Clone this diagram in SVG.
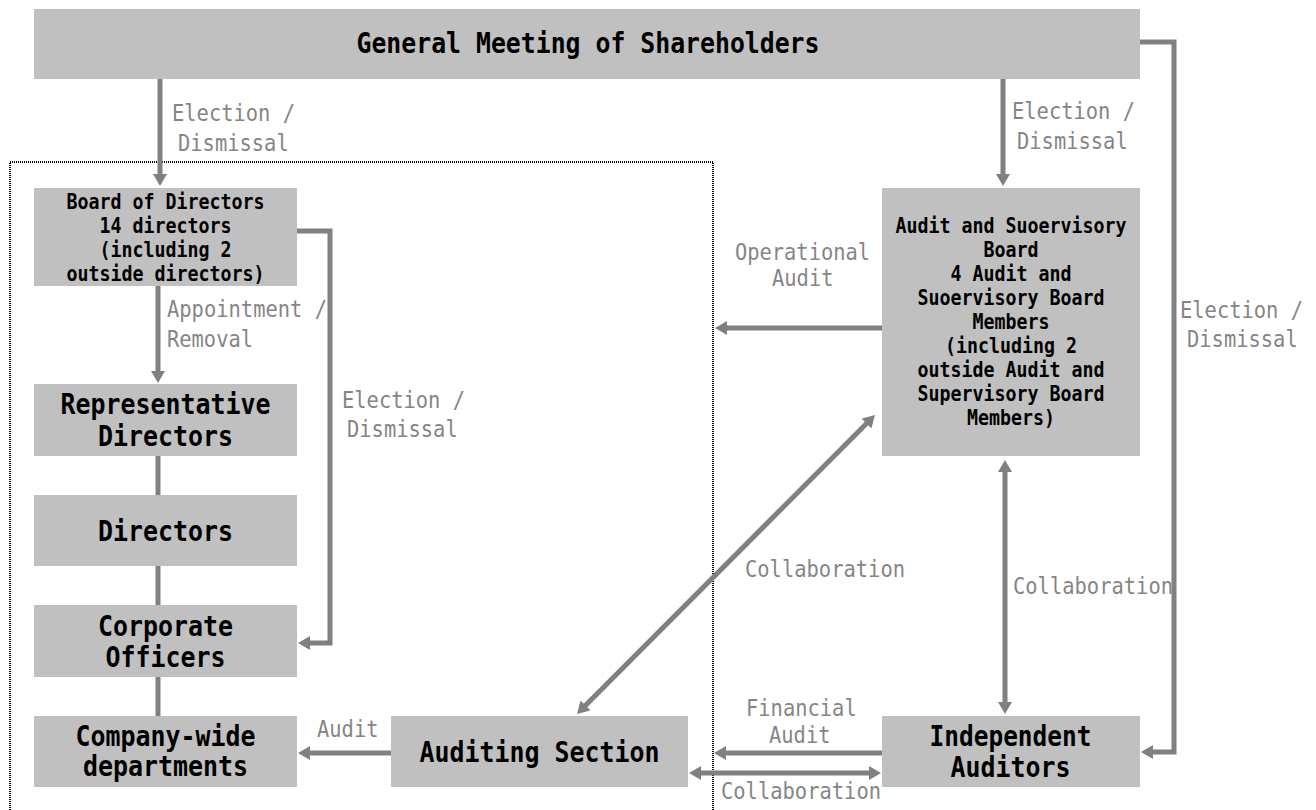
<svg xmlns="http://www.w3.org/2000/svg" width="1316" height="810" viewBox="0 0 1316 810">
<style>
.box{fill:#C0C0C0}
.tb{font-family:"DejaVu Sans Mono","Liberation Mono",monospace;font-size:28px;font-weight:bold;fill:#000;text-anchor:middle}
.ts{font-family:"DejaVu Sans Mono","Liberation Mono",monospace;font-size:20.5px;font-weight:bold;fill:#000;text-anchor:middle}
.lb{font-family:"DejaVu Sans Mono","Liberation Mono",monospace;font-size:23px;fill:#858585}
.c{stroke:#808080;stroke-width:5;fill:none}
.ca{stroke:#808080;stroke-width:5;fill:none;marker-end:url(#ah)}
.cd{stroke:#808080;stroke-width:5;fill:none;marker-end:url(#ah);marker-start:url(#ah)}
.dot{stroke:#000;stroke-width:2;fill:none;stroke-dasharray:1 1}
</style>
<defs>
<marker id="ah" markerUnits="userSpaceOnUse" viewBox="0 0 12 14" markerWidth="12" markerHeight="14" refX="4" refY="7" orient="auto-start-reverse">
<path d="M0,0 L12,7 L0,14 z" fill="#808080"/>
</marker>
</defs>
<rect width="1316" height="810" fill="#fff"/>
<path class="dot" d="M10,812 V162 H713 V812"/>

<g id="connectors">
<line class="ca" x1="160" y1="79" x2="160" y2="178"/>
<line class="ca" x1="1003" y1="79" x2="1003" y2="178"/>
<path class="ca" d="M1140,42 H1174 V752 H1149"/>
<line class="ca" x1="158" y1="286" x2="158" y2="375"/>
<line class="c" x1="158" y1="456" x2="158" y2="495"/>
<line class="c" x1="158" y1="566" x2="158" y2="605"/>
<line class="c" x1="158" y1="677" x2="158" y2="716"/>
<path class="ca" d="M297,231 H330 V643 H306"/>
<line class="ca" x1="882" y1="328" x2="723" y2="328"/>
<line class="cd" x1="582.7" y1="708.3" x2="869.3" y2="420.7"/>
<line class="cd" x1="1005" y1="468" x2="1005" y2="706"/>
<line class="ca" x1="391" y1="753" x2="306" y2="753"/>
<line class="ca" x1="882" y1="753" x2="722" y2="753"/>
<line class="cd" x1="697" y1="773" x2="873" y2="773"/>
</g>

<g id="labels">
<text class="lb" x="172" y="121" textLength="123" lengthAdjust="spacingAndGlyphs">Election /</text>
<text class="lb" x="178" y="151" textLength="110.7" lengthAdjust="spacingAndGlyphs">Dismissal</text>
<text class="lb" x="1012" y="119" textLength="123" lengthAdjust="spacingAndGlyphs">Election /</text>
<text class="lb" x="1017" y="149" textLength="110.7" lengthAdjust="spacingAndGlyphs">Dismissal</text>
<text class="lb" x="167" y="317" textLength="160" lengthAdjust="spacingAndGlyphs">Appointment /</text>
<text class="lb" x="167" y="347" textLength="86" lengthAdjust="spacingAndGlyphs">Removal</text>
<text class="lb" x="342" y="408" textLength="123" lengthAdjust="spacingAndGlyphs">Election /</text>
<text class="lb" x="347" y="437" textLength="110.7" lengthAdjust="spacingAndGlyphs">Dismissal</text>
<text class="lb" x="735" y="260" textLength="135" lengthAdjust="spacingAndGlyphs">Operational</text>
<text class="lb" x="772" y="286" textLength="61.5" lengthAdjust="spacingAndGlyphs">Audit</text>
<text class="lb" x="1180" y="318" textLength="123" lengthAdjust="spacingAndGlyphs">Election /</text>
<text class="lb" x="1187" y="347" textLength="110.7" lengthAdjust="spacingAndGlyphs">Dismissal</text>
<text class="lb" x="745" y="577" textLength="160" lengthAdjust="spacingAndGlyphs">Collaboration</text>
<text class="lb" x="1013" y="594" textLength="160" lengthAdjust="spacingAndGlyphs">Collaboration</text>
<text class="lb" x="317" y="737" textLength="61.5" lengthAdjust="spacingAndGlyphs">Audit</text>
<text class="lb" x="746" y="716" textLength="110.7" lengthAdjust="spacingAndGlyphs">Financial</text>
<text class="lb" x="769" y="743" textLength="61.5" lengthAdjust="spacingAndGlyphs">Audit</text>
<text class="lb" x="721" y="799" textLength="160" lengthAdjust="spacingAndGlyphs">Collaboration</text>
</g>

<g id="general-meeting">
<rect class="box" x="34" y="9" width="1106" height="70"/>
<text class="tb" x="588" y="53" textLength="463" lengthAdjust="spacingAndGlyphs">General Meeting of Shareholders</text>
</g>

<g id="board-of-directors">
<rect class="box" x="34" y="188" width="263" height="98"/>
<text class="ts" x="165.5" y="209" textLength="198" lengthAdjust="spacingAndGlyphs">Board of Directors</text>
<text class="ts" x="165.5" y="233" textLength="132" lengthAdjust="spacingAndGlyphs">14 directors</text>
<text class="ts" x="165.5" y="257" textLength="132" lengthAdjust="spacingAndGlyphs">(including 2</text>
<text class="ts" x="165.5" y="281" textLength="198" lengthAdjust="spacingAndGlyphs">outside directors)</text>
</g>

<g id="representative-directors">
<rect class="box" x="34" y="384" width="263" height="72"/>
<text class="tb" x="165.5" y="414" textLength="210" lengthAdjust="spacingAndGlyphs">Representative</text>
<text class="tb" x="165.5" y="446" textLength="135" lengthAdjust="spacingAndGlyphs">Directors</text>
</g>

<g id="directors">
<rect class="box" x="34" y="495" width="263" height="71"/>
<text class="tb" x="165.5" y="541" textLength="135" lengthAdjust="spacingAndGlyphs">Directors</text>
</g>

<g id="corporate-officers">
<rect class="box" x="34" y="605" width="263" height="72"/>
<text class="tb" x="165.5" y="636" textLength="135" lengthAdjust="spacingAndGlyphs">Corporate</text>
<text class="tb" x="165.5" y="667" textLength="120" lengthAdjust="spacingAndGlyphs">Officers</text>
</g>

<g id="company-wide-departments">
<rect class="box" x="34" y="716" width="263" height="71"/>
<text class="tb" x="165.5" y="746" textLength="180" lengthAdjust="spacingAndGlyphs">Company-wide</text>
<text class="tb" x="165.5" y="776" textLength="165" lengthAdjust="spacingAndGlyphs">departments</text>
</g>

<g id="auditing-section">
<rect class="box" x="391" y="716" width="297" height="71"/>
<text class="tb" x="539.5" y="762" textLength="240" lengthAdjust="spacingAndGlyphs">Auditing Section</text>
</g>

<g id="audit-supervisory-board">
<rect class="box" x="882" y="188" width="258" height="268"/>
<text class="ts" x="1011" y="233" textLength="231" lengthAdjust="spacingAndGlyphs">Audit and Suoervisory</text>
<text class="ts" x="1011" y="257" textLength="55" lengthAdjust="spacingAndGlyphs">Board</text>
<text class="ts" x="1011" y="281" textLength="121" lengthAdjust="spacingAndGlyphs">4 Audit and</text>
<text class="ts" x="1011" y="305" textLength="187" lengthAdjust="spacingAndGlyphs">Suoervisory Board</text>
<text class="ts" x="1011" y="329" textLength="77" lengthAdjust="spacingAndGlyphs">Members</text>
<text class="ts" x="1011" y="353" textLength="132" lengthAdjust="spacingAndGlyphs">(including 2</text>
<text class="ts" x="1011" y="377" textLength="187" lengthAdjust="spacingAndGlyphs">outside Audit and</text>
<text class="ts" x="1011" y="401" textLength="187" lengthAdjust="spacingAndGlyphs">Supervisory Board</text>
<text class="ts" x="1011" y="425" textLength="88" lengthAdjust="spacingAndGlyphs">Members)</text>
</g>

<g id="independent-auditors">
<rect class="box" x="882" y="716" width="258" height="71"/>
<text class="tb" x="1010.5" y="746" textLength="162" lengthAdjust="spacingAndGlyphs">Independent</text>
<text class="tb" x="1010.5" y="777" textLength="120" lengthAdjust="spacingAndGlyphs">Auditors</text>
</g>
</svg>
